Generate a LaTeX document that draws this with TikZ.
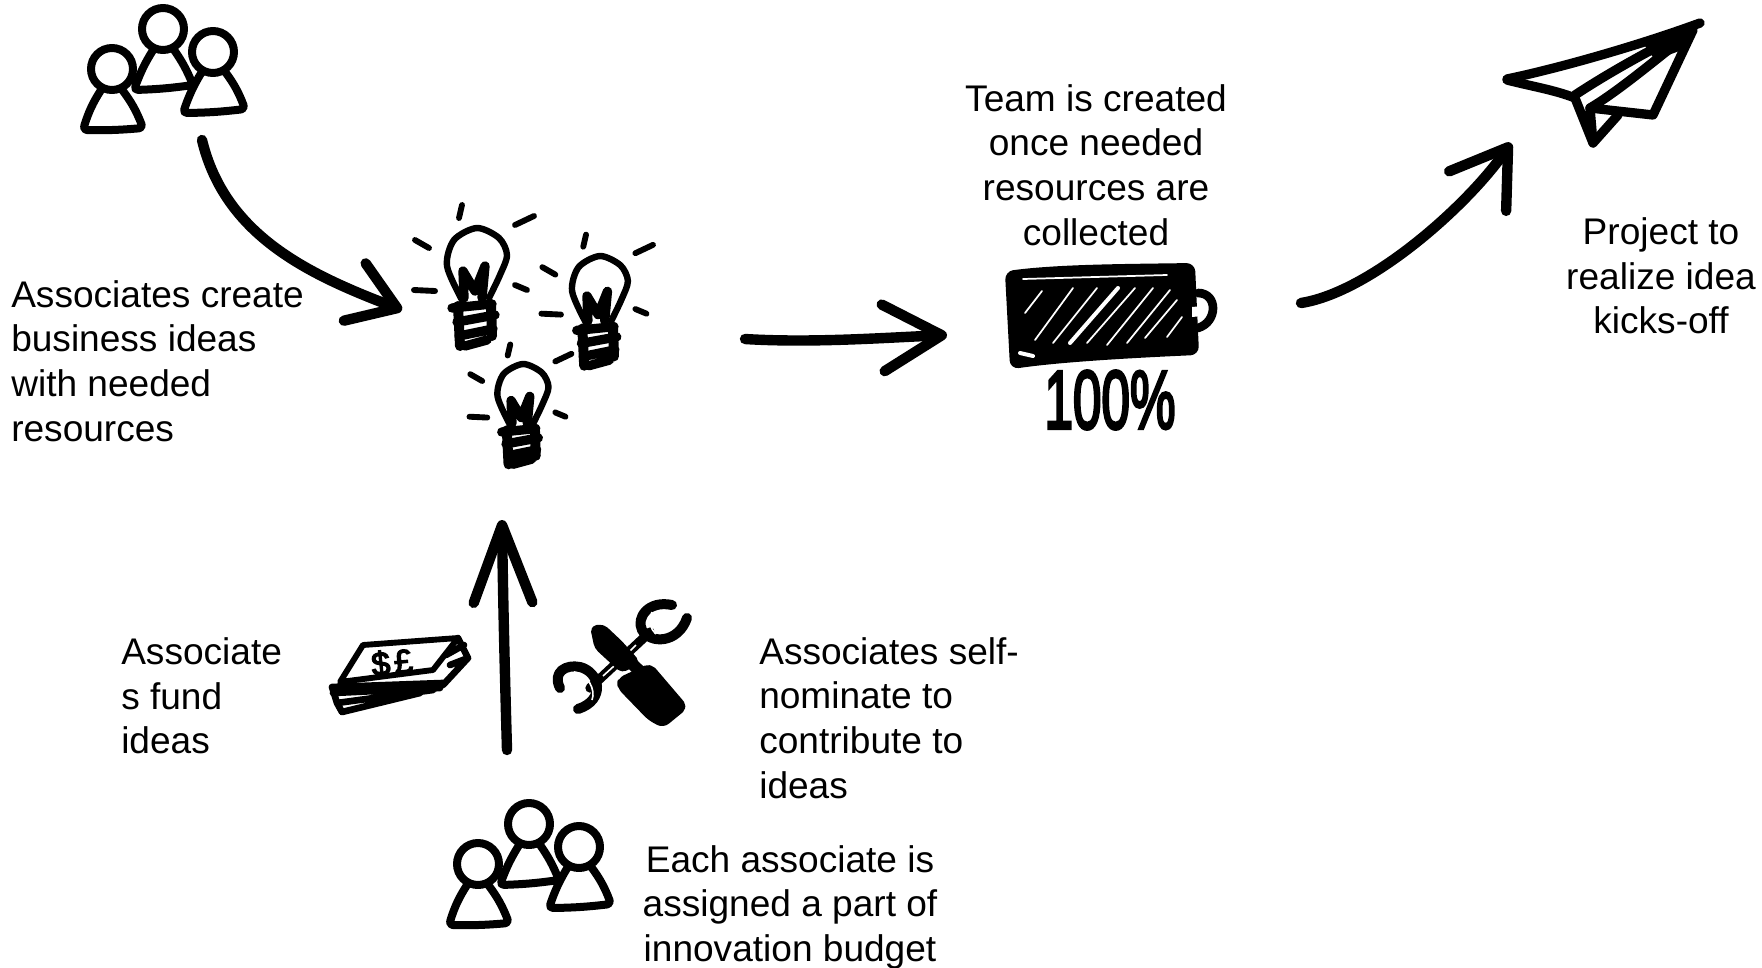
\documentclass[tikz,border=0pt]{standalone}
\usepackage{fontspec}
\setmainfont{Liberation Sans}
\newfontfamily\inkfont[FakeBold=4]{Liberation Sans}
\usetikzlibrary{arrows.meta}
\tikzset{
  label/.style={inner sep=0pt,font=\fontsize{27.8}{33.4}\selectfont},
  sketch/.style={line width=6pt,line cap=round,line join=round},
  ray/.style={line width=4.4pt,line cap=round},
  bigarrow/.style 2 args={line width=7.8pt,line cap=round,-{Straight Barb[length=#1,width=#2,round]}},
  people/.pic={
    \draw[sketch,fill=white,rounded corners=3pt] (95,45) to[bend right=6] (74,88) to[bend right=3] (133,83) to[bend right=6] (112,45) -- cycle;
    \draw[sketch,fill=white] (103,27) circle (21);
    \draw[sketch,fill=white,rounded corners=3pt] (43,85) to[bend right=8] (23,128) to[bend right=3] (83,126) to[bend right=8] (60,85) -- cycle;
    \draw[sketch,fill=white] (52,67) circle (21);
    \draw[sketch,fill=white,rounded corners=3pt] (143,68) to[bend right=6] (123,111) to[bend right=3] (185,107) to[bend right=8] (163,67) -- cycle;
    \draw[sketch,fill=white] (153,50) circle (21);
  },
  bulb/.pic={
    \draw[ray,line width=4.8pt] plot[smooth] coordinates {(-15,72) (-30,38) (-23,12) (0,0) (22,10) (30,27) (23,47) (12,70)};
    \draw[ray,line width=7pt,line join=round] (-13,70) -- (-14,43) -- (-2,63) -- (8,38) -- (5,70);
    \draw[ray,line width=7pt] (-25,80) -- (15,76) (-20,94) -- (18,87) (-18,108) -- (16,101) (-12,118) -- (10,112);
    \draw[ray,line width=7.5pt] (-19,78) -- (-17,118) (14,76) -- (15,108);
    \draw[ray] (-15,-23) -- (-18,-10) (38,-3) -- (57,-12) (-62,12) -- (-48,20) (-63,62) -- (-42,63) (38,57) -- (50,62);
  }
}
\begin{document}
\begin{tikzpicture}[x=.75pt,y=-.75pt]
\useasboundingbox (0,0) rectangle (1762,967);
% groups of people
\pic (topgroup) at (60,2) {people};
\pic (lowgroup) at (426,797) {people};
% bulbs
\pic (ideaa) at (477,228) {bulb};
\pic[scale=.93] (ideab) at (600,256) {bulb};
\pic[scale=.85] (ideac) at (523,364) {bulb};
% money
\draw[sketch,line width=4.4pt,fill=white] (363,645) -- (458,638) -- (433,670) -- (340,682) -- cycle;
\draw[sketch,line width=5pt] (332,687) -- (443,683) (333,693) -- (440,688) (337,703) -- (433,690) (342,712) -- (420,693) (332,687) -- (337,703) -- (342,712) (458,638) -- (468,658) -- (443,685) (446,655) -- (464,645) (450,665) -- (468,658);
\node[font=\inkfont\fontsize{25}{25}\selectfont,inner sep=0pt,rotate=6] (moneysign) at (392,663) {\$\hspace{3pt}£};
% tools
\draw[sketch,line width=7pt] (590,688) -- (650,632);
\draw[white,line width=1.2pt] (603,676) -- (614,666) (630,651) -- (636,645);
\draw[sketch,line width=7.5pt] (672,605) .. controls (648,600) and (636,618) .. (642,630) .. controls (650,644) and (678,644) .. (687,618);
\draw[sketch,line width=7.5pt] (560,688) .. controls (552,672) and (566,664) .. (580,667) .. controls (600,672) and (606,700) .. (578,709);
\draw[white,line width=1.2pt] (652,612) .. controls (648,622) and (650,628) .. (656,634) (574,672) .. controls (588,674) and (596,690) .. (592,700);
\draw[sketch,line width=4pt,fill=black,rounded corners=3pt] (593,628) -- (603,627) -- (620,643) -- (637,662) -- (622,670) -- (597,647) -- cycle;
\draw[sketch,line width=4pt,fill=black,rounded corners=4pt] (620,680) -- (650,666) -- (685,707) -- (663,725) -- (650,718) -- (620,687) -- cycle;
\draw[sketch,line width=9pt] (628,660) -- (646,677);
% battery
\draw[sketch,line width=6.5pt] (1198,293) .. controls (1218,293) and (1218,322) .. (1198,328);
\draw[line width=3pt,line join=round,fill=black,rounded corners=5pt] (1007,273) .. controls (1060,266) and (1130,266) .. (1193,265) -- (1197,353) .. controls (1130,356) and (1060,360) .. (1012,367) -- cycle;
\draw[white,line cap=round,line width=1.3pt] (1023,279) -- (1167,275) (1025,313) -- (1042,291) (1035,340) -- (1073,288) (1053,343) -- (1097,288) (1087,343) -- (1135,288) (1107,345) -- (1153,288) (1127,343) -- (1170,290) (1145,338) -- (1177,300) (1167,337) -- (1182,317);
\draw[white,line cap=round,line width=3pt] (1070,343) -- (1118,288) (1020,353) -- (1033,356);
\fill[white] (1192,307) -- (1203,306) -- (1202,316) -- (1192,317) -- cycle;
\node[font=\inkfont\fontsize{62}{62}\selectfont,inner sep=0pt] (charge) at (1110,400) {\scalebox{.62}[1]{100\%}};
% plane
\draw[sketch,line width=7pt] (1507,79) .. controls (1560,68) and (1640,45) .. (1700,23);
\draw[sketch,line width=7pt] (1507,80) .. controls (1530,86) and (1555,90) .. (1575,98) -- (1593,143) -- (1590,108);
\draw[sketch,line width=7pt] (1575,95) .. controls (1610,72) and (1650,50) .. (1690,30);
\draw[sketch,line width=7pt] (1590,108) .. controls (1620,90) and (1655,60) .. (1690,33);
\draw[sketch,line width=7pt] (1590,108) -- (1653,115) -- (1693,30);
\draw[sketch,line width=7pt] (1593,143) -- (1618,115);
\fill (1693,28) -- (1645,46) -- (1655,60) -- (1682,50) -- cycle;
% ends of the arrows
\coordinate (topgroupout) at (202,140);
\coordinate (ideasin) at (402,310);
\coordinate (ideasout) at (745,339);
\coordinate (batteryin) at (947,335);
\coordinate (batteryout) at (1301,303);
\coordinate (planein) at (1511,143);
\coordinate (lowgroupout) at (507,750);
\coordinate (ideasbelow) at (502,520);
\draw[bigarrow={34pt}{46pt}] (topgroupout) .. controls (225,236) and (310,275) .. (ideasin);
\draw[bigarrow={44pt}{50pt}] (ideasout) .. controls (810,343) and (880,338) .. (batteryin);
\draw[bigarrow={40pt}{52pt}] (batteryout) .. controls (1371,292) and (1468,205) .. (planein);
\draw[bigarrow={58pt}{44pt}] (lowgroupout) .. controls (505,680) and (503,600) .. (ideasbelow);
% texts
\node[label,anchor=west,align=left] (createtext) at (11,361) {Associates create\\business ideas\\with needed\\resources};
\node[label,align=center] (teamtext) at (1096,165) {Team is created\\once needed\\resources are\\collected};
\node[label,align=center] (projecttext) at (1661,276) {Project to\\realize idea\\kicks-off};
\node[label,anchor=west,align=left] (fundtext) at (121,696) {Associate\\s fund\\ideas};
\node[label,anchor=west,align=left] (nominatetext) at (759,718) {Associates self-\\nominate to\\contribute to\\ideas};
\node[label,align=center] (budgettext) at (790,907) {Each associate is\\assigned a part of\\innovation budget};
\end{tikzpicture}
\end{document}
